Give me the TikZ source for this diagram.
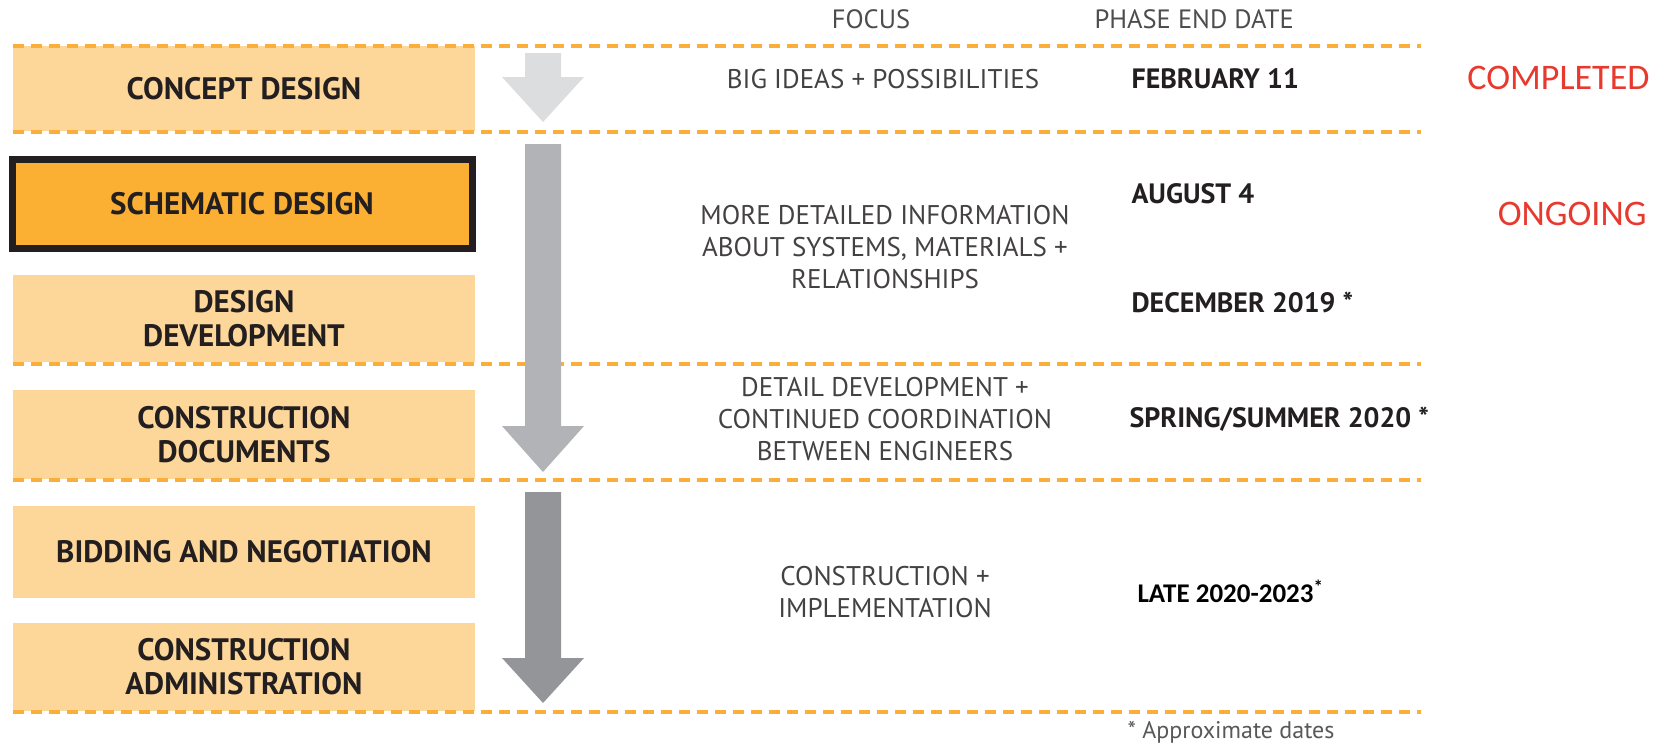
\documentclass[tikz,border=0pt]{standalone}
\usepackage{fontspec}
\setmainfont{PT Sans}
\newfontfamily\calib{Carlito}
\definecolor{phase}{HTML}{FDD699}
\definecolor{current}{HTML}{FBB034}
\definecolor{rule}{HTML}{FBAF3A}
\definecolor{done}{HTML}{E8392F}
\definecolor{ink}{HTML}{231F20}
\definecolor{arrowa}{HTML}{DCDDDE}
\definecolor{arrowb}{HTML}{B2B3B7}
\definecolor{arrowc}{HTML}{939598}
\begin{document}
\begin{tikzpicture}[x=1pt,y=-1pt,
    phasebox/.style={fill=phase,minimum width=462,text=ink,align=center,
        font=\fontsize{31}{34}\selectfont\bfseries},
    focustext/.style={text=ink!85,align=center,font=\fontsize{27}{32}\selectfont},
    headtext/.style={text=ink!80,font=\fontsize{26.5}{28}\selectfont},
    datetext/.style={anchor=west,text=ink,font=\fontsize{28}{30}\selectfont\bfseries},
    status/.style={anchor=east,text=done,font=\calib\fontsize{36}{40}\selectfont},
    divider/.style={draw=rule,line width=3.5pt,dash pattern=on 11pt off 7pt}]
    \useasboundingbox (0,0) rectangle (1669,745);
    \node[phasebox,minimum height=85] (concept) at (244,88.5) {CONCEPT DESIGN};
    \node[phasebox,fill=current,draw=ink,line width=7pt,minimum width=460,minimum height=89] (schematic) at (242,204) {SCHEMATIC DESIGN};
    \node[phasebox,minimum height=87] (develop) at (244,318.5) {DESIGN\\DEVELOPMENT};
    \node[phasebox,minimum height=89] (documents) at (244,434.5) {CONSTRUCTION\\DOCUMENTS};
    \node[phasebox,minimum height=92] (bidding) at (244,552) {BIDDING AND NEGOTIATION};
    \node[phasebox,minimum height=88] (admin) at (244,667) {CONSTRUCTION\\ADMINISTRATION};
    \foreach \y in {46,132,364,480,712}
        \draw[divider] (13,\y) -- (1421,\y);
    \foreach \top/\neck/\tip/\col in {53/77/122/arrowa,144/426/472/arrowb,492/658/703/arrowc}
        \fill[\col] (525,\top) -- (561,\top) -- (561,\neck) -- (584,\neck) -- (543,\tip) -- (502,\neck) -- (525,\neck) -- cycle;
    \node[headtext] (focus) at (871,19) {FOCUS};
    \node[headtext,anchor=west] (enddate) at (1091,19) {PHASE END DATE};
    \node[focustext] (ideas) at (883,79) {BIG IDEAS + POSSIBILITIES};
    \node[focustext] (detail) at (885,247) {MORE DETAILED INFORMATION\\ABOUT SYSTEMS, MATERIALS +\\RELATIONSHIPS};
    \node[focustext] (coord) at (885,419) {DETAIL DEVELOPMENT +\\CONTINUED COORDINATION\\BETWEEN ENGINEERS};
    \node[focustext] (build) at (885,592) {CONSTRUCTION +\\IMPLEMENTATION};
    \node[datetext] (feb) at (1128,79) {FEBRUARY 11};
    \node[datetext] (aug) at (1128,194) {AUGUST 4};
    \node[datetext] (dec) at (1128,302) {DECEMBER 2019 *};
    \node[datetext] (spring) at (1126,419) {SPRING/SUMMER 2020 *};
    \node[datetext,text=black,font=\calib\fontsize{27}{30}\selectfont\bfseries] (late) at (1134,591) {LATE 2020-2023\textsuperscript{*}};
    \node[status] (completed) at (1653,78) {COMPLETED};
    \node[status] (ongoing) at (1650,214) {ONGOING};
    \node[anchor=west,text=ink!75,font=\fontsize{24}{26}\selectfont] (approx) at (1124,732) {* Approximate dates};
\end{tikzpicture}
\end{document}
